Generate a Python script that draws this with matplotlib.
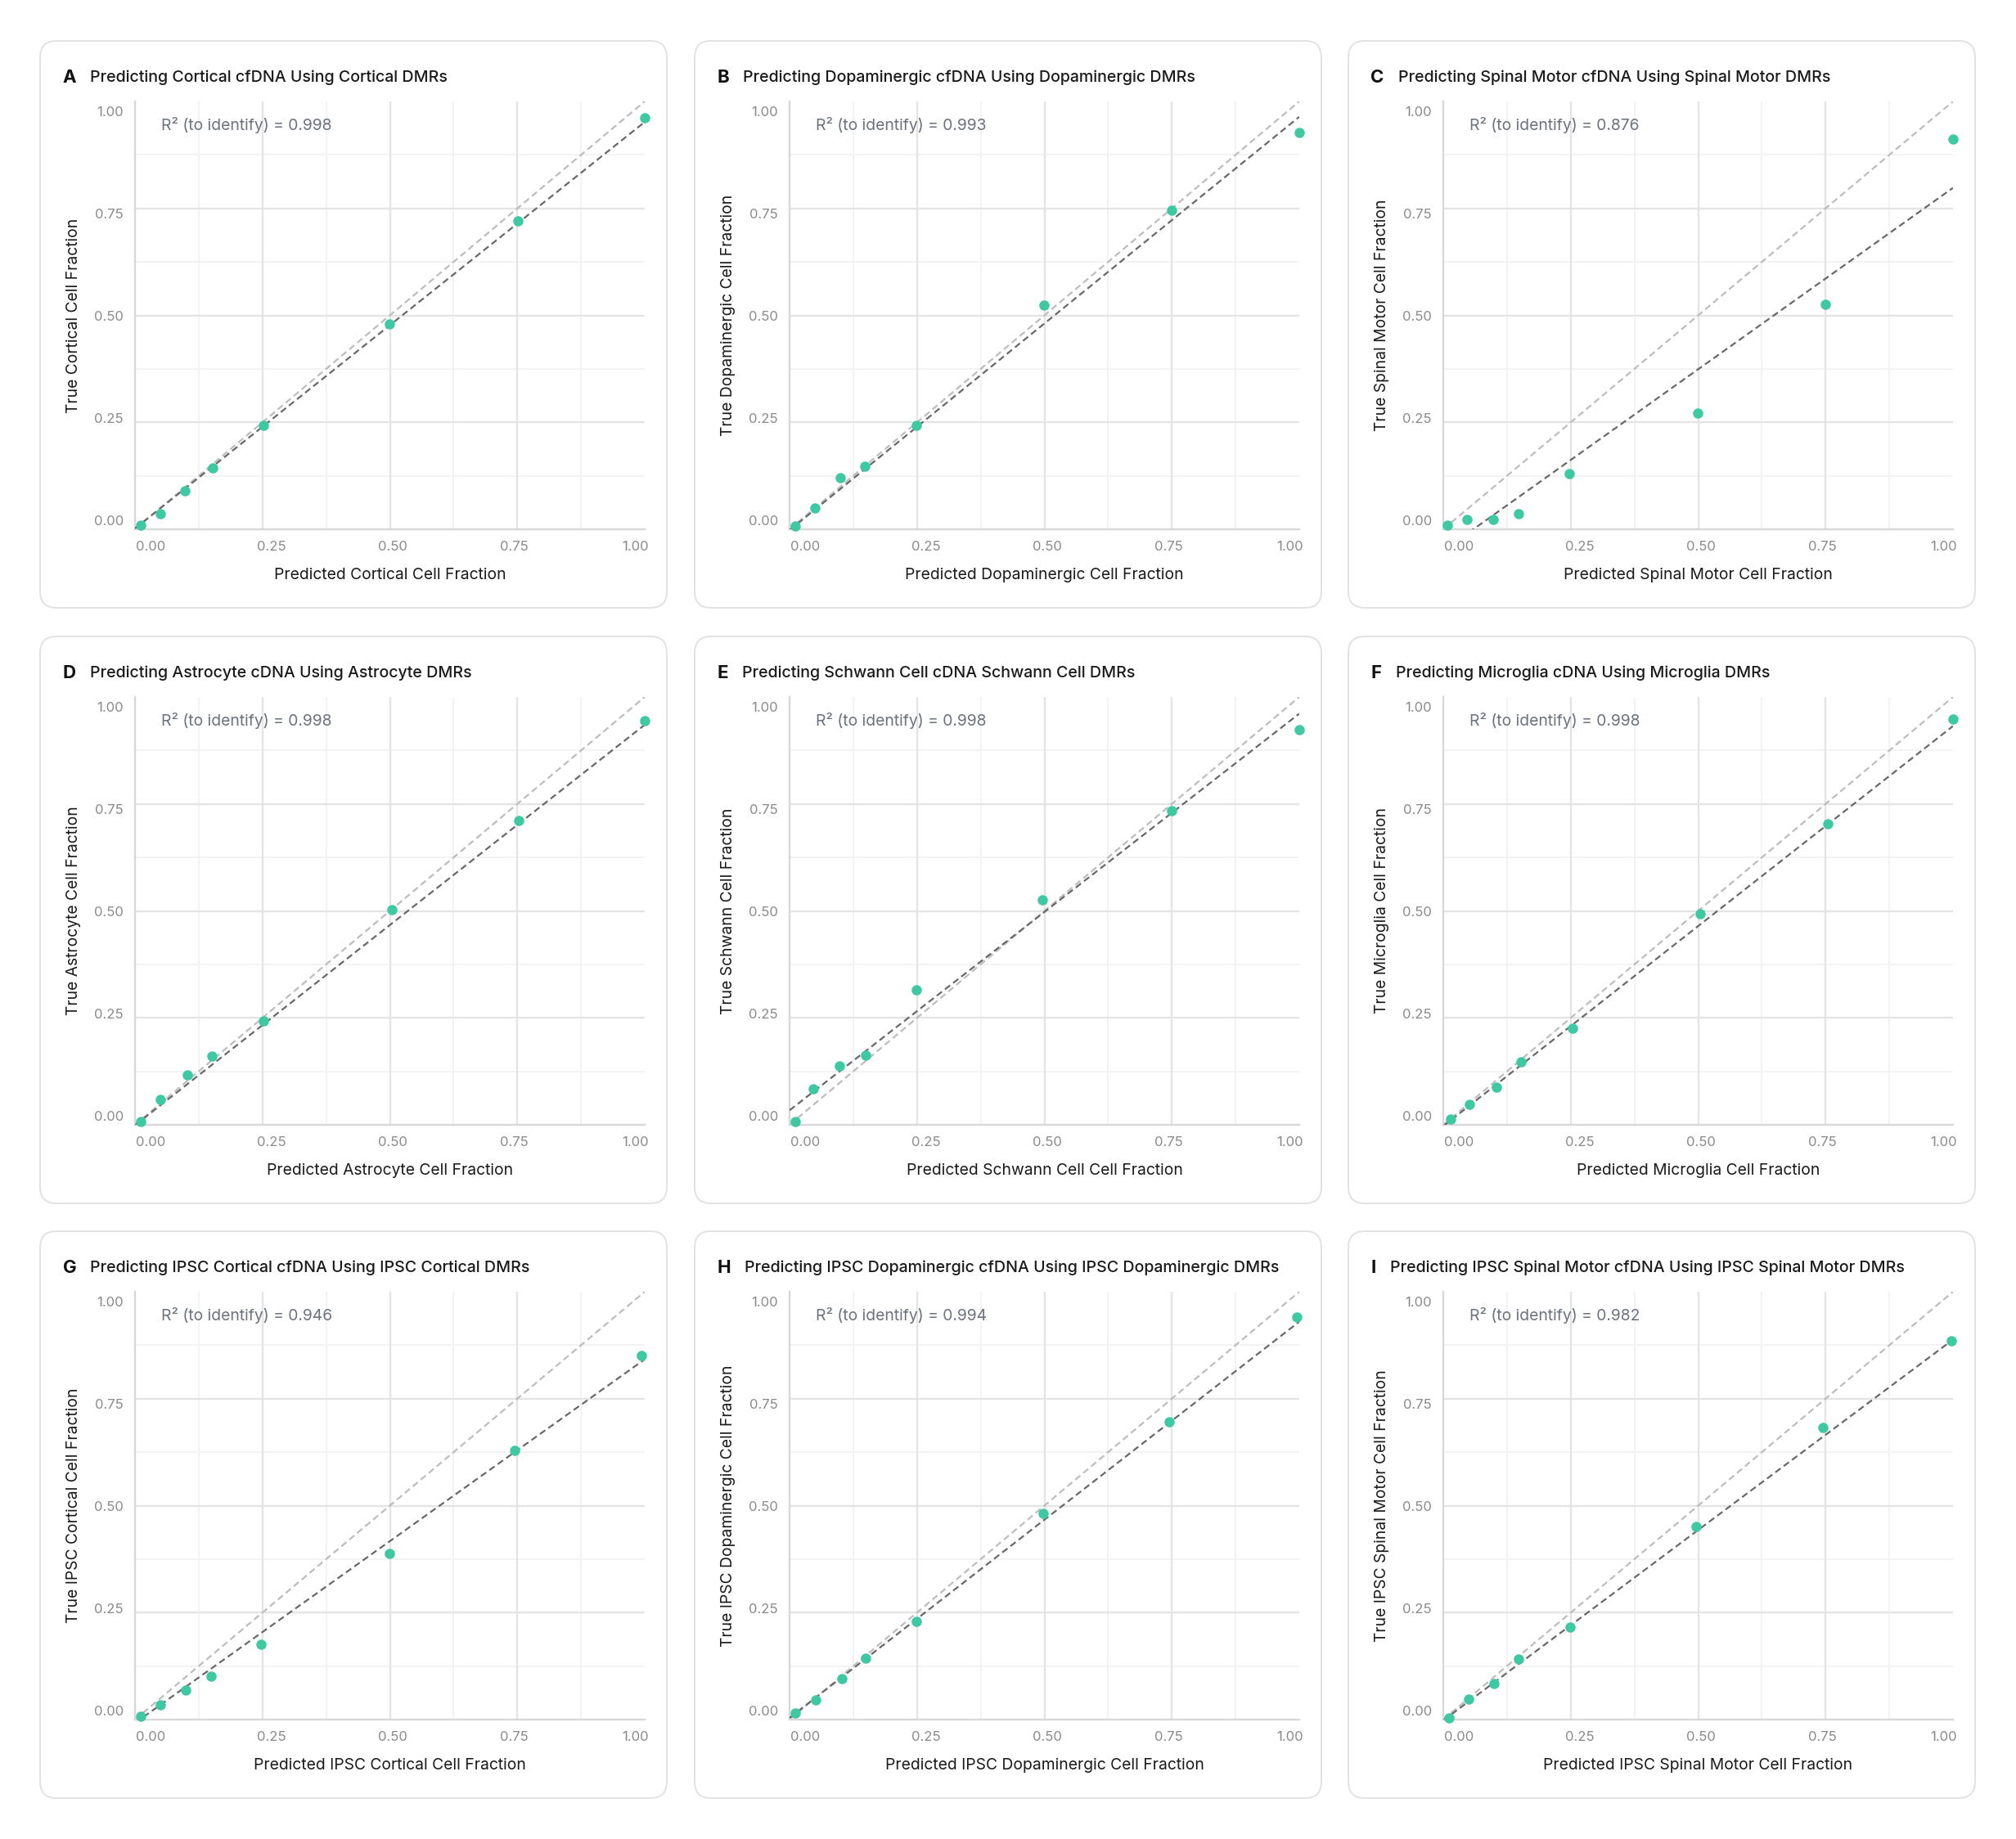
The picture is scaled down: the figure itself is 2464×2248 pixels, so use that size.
import matplotlib
matplotlib.use("Agg")
import matplotlib.pyplot as plt
from matplotlib.patches import FancyBboxPatch
import numpy as np

# ---------------- data ----------------
letters = ["A", "B", "C", "D", "E", "F", "G", "H", "I"]
titles = [
    "Predicting Cortical cfDNA Using Cortical DMRs",
    "Predicting Dopaminergic cfDNA Using Dopaminergic DMRs",
    "Predicting Spinal Motor cfDNA Using Spinal Motor DMRs",
    "Predicting Astrocyte cDNA Using Astrocyte DMRs",
    "Predicting Schwann Cell cDNA Schwann Cell DMRs",
    "Predicting Microglia cDNA Using Microglia DMRs",
    "Predicting IPSC Cortical cfDNA Using IPSC Cortical DMRs",
    "Predicting IPSC Dopaminergic cfDNA Using IPSC Dopaminergic DMRs",
    "Predicting IPSC Spinal Motor cfDNA Using IPSC Spinal Motor DMRs",
]
xlabels = [
    "Predicted Cortical Cell Fraction",
    "Predicted Dopaminergic Cell Fraction",
    "Predicted Spinal Motor Cell Fraction",
    "Predicted Astrocyte Cell Fraction",
    "Predicted Schwann Cell Cell Fraction",
    "Predicted Microglia Cell Fraction",
    "Predicted IPSC Cortical Cell Fraction",
    "Predicted IPSC Dopaminergic Cell Fraction",
    "Predicted IPSC Spinal Motor Cell Fraction",
]
ylabels = [
    "True Cortical Cell Fraction",
    "True Dopaminergic Cell Fraction",
    "True Spinal Motor Cell Fraction",
    "True Astrocyte Cell Fraction",
    "True Schwann Cell Fraction",
    "True Microglia Cell Fraction",
    "True IPSC Cortical Cell Fraction",
    "True IPSC Dopaminergic Cell Fraction",
    "True IPSC Spinal Motor Cell Fraction",
]
r2_values = ["0.998", "0.993", "0.876", "0.998", "0.998", "0.998", "0.946", "0.994", "0.982"]

pred_A = [0.011, 0.050, 0.098, 0.153, 0.252, 0.499, 0.752, 1.000]
true_A = [0.009, 0.036, 0.089, 0.144, 0.242, 0.480, 0.720, 0.961]
pred_B = [0.012, 0.050, 0.100, 0.148, 0.248, 0.499, 0.750, 1.000]
true_B = [0.008, 0.050, 0.121, 0.148, 0.243, 0.523, 0.746, 0.927]
pred_C = [0.008, 0.047, 0.098, 0.148, 0.247, 0.499, 0.749, 1.000]
true_C = [0.009, 0.022, 0.023, 0.036, 0.130, 0.271, 0.526, 0.913]
pred_D = [0.012, 0.050, 0.102, 0.151, 0.252, 0.504, 0.753, 1.000]
true_D = [0.008, 0.060, 0.117, 0.160, 0.243, 0.502, 0.712, 0.945]
pred_E = [0.011, 0.047, 0.098, 0.150, 0.249, 0.496, 0.749, 1.000]
true_E = [0.007, 0.084, 0.138, 0.162, 0.315, 0.526, 0.735, 0.924]
pred_F = [0.014, 0.052, 0.104, 0.152, 0.254, 0.504, 0.754, 1.000]
true_F = [0.013, 0.048, 0.087, 0.148, 0.225, 0.493, 0.703, 0.949]
pred_G = [0.011, 0.050, 0.100, 0.150, 0.247, 0.499, 0.745, 0.994]
true_G = [0.007, 0.035, 0.068, 0.101, 0.175, 0.389, 0.629, 0.851]
pred_H = [0.012, 0.052, 0.102, 0.150, 0.249, 0.497, 0.745, 0.995]
true_H = [0.015, 0.045, 0.095, 0.144, 0.230, 0.481, 0.696, 0.941]
pred_I = [0.012, 0.050, 0.099, 0.148, 0.249, 0.496, 0.745, 0.996]
true_I = [0.003, 0.047, 0.085, 0.142, 0.216, 0.452, 0.682, 0.885]

# fitted regression lines (intercept, slope)
fit_intercepts = [0.002, -0.002, -0.050, -0.001, 0.034, -0.003, -0.008, 0.004, -0.002]
fit_slopes = [0.950, 0.966, 0.848, 0.936, 0.927, 0.935, 0.850, 0.926, 0.890]

predicted = [pred_A, pred_B, pred_C, pred_D, pred_E, pred_F, pred_G, pred_H, pred_I]
true_vals = [true_A, true_B, true_C, true_D, true_E, true_F, true_G, true_H, true_I]

tick_labels = ["0.00", "0.25", "0.50", "0.75", "1.00"]

# ---------------- style / layout ----------------
W, H, DPI = 2464, 2248, 200
plt.rcParams["font.family"] = ["Inter", "DejaVu Sans"]

TEAL = "#3ec9a3"
fig = plt.figure(figsize=(W / DPI, H / DPI), dpi=DPI)
fig.patch.set_facecolor("white")

bg = fig.add_axes([0, 0, 1, 1], zorder=-10)
bg.set_xlim(0, W)
bg.set_ylim(H, 0)
bg.axis("off")

card_x = [49, 849, 1648]
card_y = [50, 778, 1505]
CW, CH = 766, 693
AX_L, AX_T, AX_W, AX_H = 116, 74, 623, 523

grid_major = [0.25, 0.5, 0.75]
grid_minor = [0.125, 0.375, 0.625, 0.875]
xlab_pos = [0.030 + 0.238 * i for i in range(5)]
ylab_pos = [0.021 + 0.239 * i for i in range(5)]

renderer = fig.canvas.get_renderer()

for i in range(9):
    col, row = i % 3, i // 3
    cx, cy = card_x[col], card_y[row]
    card = FancyBboxPatch((cx, cy), CW, CH, boxstyle="round,pad=0,rounding_size=20",
                          fc="white", ec="#e2e2e2", lw=0.7)
    bg.add_patch(card)

    lt = bg.text(cx + 27.5, cy + 45, letters[i], fontsize=8.0, fontweight="bold",
                 color="#111111", ha="left", va="center")
    bb = lt.get_window_extent(renderer)
    bg.text(bb.x1 + 17, cy + 45, titles[i], fontsize=7.05, fontweight="medium",
            color="#1a1a1a", ha="left", va="center")

    ax = fig.add_axes([(cx + AX_L) / W, 1 - (cy + AX_T + AX_H) / H, AX_W / W, AX_H / H])
    ax.set_xlim(0, 1)
    ax.set_ylim(0, 1)
    for v in grid_minor:
        ax.axvline(v, color="#f2f2f2", lw=0.65, zorder=0)
        ax.axhline(v, color="#f2f2f2", lw=0.65, zorder=0)
    for v in grid_major:
        ax.axvline(v, color="#e4e4e4", lw=0.85, zorder=0.5)
        ax.axhline(v, color="#e4e4e4", lw=0.85, zorder=0.5)

    for s in ["top", "right"]:
        ax.spines[s].set_visible(False)
    for s in ["left", "bottom"]:
        ax.spines[s].set_color("#d8d8d8")
        ax.spines[s].set_linewidth(0.85)

    ax.set_xticks(xlab_pos, tick_labels)
    ax.set_yticks(ylab_pos, tick_labels)
    ax.tick_params(length=0, labelsize=6.0, labelcolor="#8a8a8a")
    ax.tick_params(axis="x", pad=5.2)
    ax.tick_params(axis="y", pad=5.0)

    ax.set_xlabel(xlabels[i], fontsize=6.95, color="#1a1a1a", va="center")
    ax.xaxis.set_label_coords(0.5, -0.108)
    ax.set_ylabel(ylabels[i], fontsize=6.95, color="#1a1a1a", va="center")
    ax.yaxis.set_label_coords(-0.120, 0.5)

    xs = np.array([0.0, 1.0])
    ax.plot(xs, xs, color="#bdbdbd", lw=0.8, dashes=(3.6, 2.1), zorder=2)
    ax.plot(xs, fit_intercepts[i] + fit_slopes[i] * xs, color="#686868", lw=0.8,
            dashes=(3.6, 2.1), zorder=3)
    ax.plot(predicted[i], true_vals[i], "o", ms=4.5, color=TEAL, mec="none",
            zorder=4, clip_on=False)

    ax.text(0.051, 0.945, "R\u00b2 (to identify) = " + r2_values[i], transform=ax.transAxes,
            fontsize=6.95, color="#6b7280", ha="left", va="center")

fig.savefig("out.png", dpi=DPI, facecolor="white")
